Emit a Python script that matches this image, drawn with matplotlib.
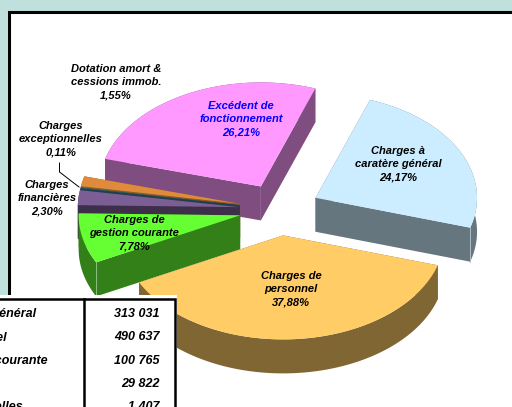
import numpy as np
import matplotlib
matplotlib.use('Agg')
import matplotlib.pyplot as plt

# Slices, clockwise from the blue one
shares = [24.17, 37.88, 7.78, 2.30, 0.11, 1.55, 26.21]
top_colors = ['#CCECFF', '#FFCC66', '#66FF33', '#7B5E94', '#2F6670', '#E08B3C', '#FF99FF']
side_colors = ['#66767F', '#806633', '#338019', '#3D2F4A', '#1F4048', '#8A5A28', '#804D80']
edge_colors = ['#B0BCC4', 'none', '#8FBF80', 'none', 'none', 'none', 'none']

slice_labels = ['Charges à\ncaratère général\n24,17%',
                'Charges de\npersonnel\n37,88%',
                'Charges de\ngestion courante\n7,78%',
                'Charges\nfinancières\n2,30%',
                'Charges\nexceptionnelles\n0,11%',
                'Dotation amort &\ncessions immob.\n1,55%',
                'Excédent de\nfonctionnement\n26,21%']
label_pos = [(398, 164), (291, 289), (134, 233), (47, 198), (61, 139), (116, 82), (241, 119)]
label_colors = ['black'] * 6 + ['#0000FF']

table_names = ['Charges à caratère général', 'Charges de personnel',
               'Charges de gestion courante', 'Charges financières',
               'Charges exceptionnelles']
table_values = ['313 031', '490 637', '100 765', '29 822', '1 407']

# Pie geometry in pixels
cx, cy = 279.5, 209.5
rx, ry = 161.5, 104
depth = 34
explode = 0.25
start = 70.3
draw_order = [6, 5, 4, 3, 2, 0, 1]

plt.rcParams['font.family'] = ['Liberation Sans', 'DejaVu Sans']
fig = plt.figure(figsize=(5.12, 4.07), dpi=100, facecolor='#BFE0DD')
ax = fig.add_axes([0, 0, 1, 1])
ax.set_xlim(0, 512)
ax.set_ylim(407, 0)
ax.axis('off')

# White panel with its thick frame
ax.fill([8, 520, 520, 8], [12, 12, 420, 420], color='white', zorder=0)
ax.plot([8.5, 8.5, 520], [300, 12, 12], color='black', lw=2.2, zorder=1, solid_joinstyle='miter')

# Angles of each slice
ends = start - np.cumsum(shares) * 3.6
starts = np.concatenate([[start], ends[:-1]])

for i in draw_order:
    t = np.radians(np.linspace(starts[i], ends[i], 80))
    mid = np.radians((starts[i] + ends[i]) / 2)
    x0 = cx + explode * rx * np.cos(mid)
    y0 = cy - explode * ry * np.sin(mid)
    xs = x0 + rx * np.cos(t)
    ys = y0 - ry * np.sin(t)
    # radial walls and outer wall
    ax.fill([x0, x0, xs[0], xs[0]], [y0, y0 + depth, ys[0] + depth, ys[0]],
            color=side_colors[i], lw=0, zorder=2)
    ax.fill([x0, x0, xs[-1], xs[-1]], [y0, y0 + depth, ys[-1] + depth, ys[-1]],
            color=side_colors[i], lw=0, zorder=2)
    ax.fill(np.r_[xs, xs[::-1]], np.r_[ys, ys[::-1] + depth],
            color=side_colors[i], lw=0, zorder=2)
    if edge_colors[i] != 'none':
        ax.plot([xs[0 if i == 2 else -1]] * 2,
                [ys[0 if i == 2 else -1], ys[0 if i == 2 else -1] + depth],
                color=edge_colors[i], lw=0.7, zorder=2)
    ax.fill(np.r_[x0, xs], np.r_[y0, ys], color=top_colors[i], lw=0, zorder=2)

# Leader line of the small slice
ax.plot([59.5, 59.5, 79], [163, 172, 187], color='black', lw=0.7, zorder=3)

for text, pos, col in zip(slice_labels, label_pos, label_colors):
    ax.text(pos[0], pos[1], text, color=col, ha='center', va='center',
            fontsize=8, fontweight='bold', fontstyle='italic', linespacing=1.42, zorder=4)

# Table, cut by the left and bottom edges of the picture
ax.fill([-5, 177, 177, -5], [295, 295, 420, 420], color='white', lw=0, zorder=5)
ax.plot([-5, 175, 175], [298.5, 298.5, 420], color='black', lw=1.8, zorder=6, solid_joinstyle='miter')
ax.plot([84, 84], [298.5, 420], color='black', lw=1.8, zorder=6)
row_y = [314, 337.5, 361, 384, 407]
for name, val, y in zip(table_names, table_values, row_y):
    ax.text(-125, y, name, ha='left', va='center', fontsize=9, fontweight='bold',
            fontstyle='italic', clip_on=True, zorder=7)
    ax.text(160, y, val, ha='right', va='center', fontsize=9, fontweight='bold',
            fontstyle='italic', clip_on=True, zorder=7)

fig.savefig('out.png', dpi=100, facecolor=fig.get_facecolor())
